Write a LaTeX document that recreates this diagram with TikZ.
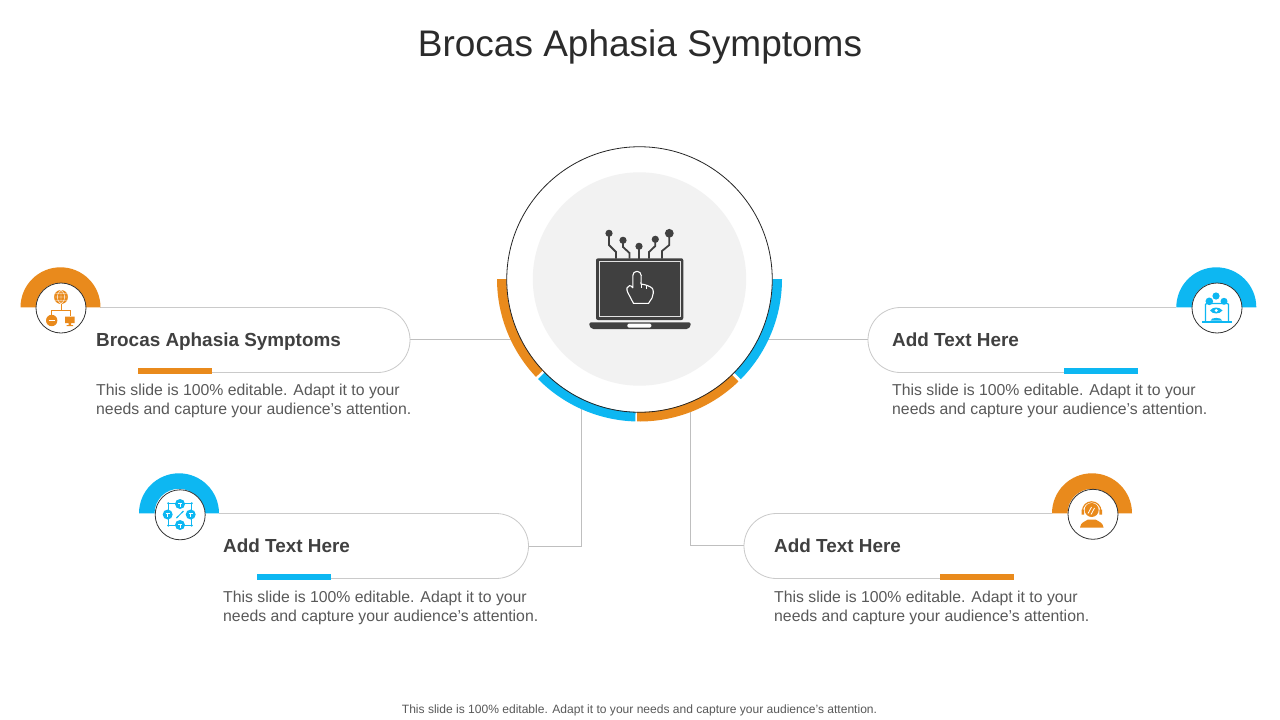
\documentclass[tikz,border=0pt]{standalone}
\usepackage{fontspec}
\setmainfont{Liberation Sans}
\usetikzlibrary{calc}
\definecolor{orangeA}{HTML}{E98A1C}
\definecolor{blueA}{HTML}{0DB7F2}
\definecolor{darkT}{HTML}{404040}
\definecolor{bodyT}{HTML}{595959}
\definecolor{titleT}{HTML}{2B2B2B}
\definecolor{lineG}{HTML}{BFBFBF}
\definecolor{pillG}{HTML}{CACACA}
\definecolor{softG}{HTML}{F2F2F2}
\newcommand{\ringarc}[3]{\fill[#3] ($(cc)+(#1:142.5)$) arc[start angle=#1,end angle=#2,radius=142.5] -- ($(cc)+(#2:133)$) arc[start angle=#2,end angle=#1,radius=133] -- cycle;}
\newcommand{\halfring}[3]{\fill[#3] (#1-40,#2) arc[start angle=180,end angle=360,radius=40] -- (#1+24.5,#2) arc[start angle=360,end angle=180,radius=24.5] -- cycle;}
\tikzset{x=1pt,y=-1pt,
 pill/.style={draw=pillG,line width=0.8pt},
 conn/.style={draw=lineG,line width=0.8pt},
 bar/.style={inner sep=0,minimum width=74pt,minimum height=5.5pt},
 title/.style={font=\fontsize{37}{44}\selectfont,text=titleT,inner sep=0},
 head/.style={font=\bfseries\fontsize{18.9}{22}\selectfont,text=darkT,inner sep=0,anchor=base west},
 body/.style={font=\fontsize{15.8}{19}\selectfont,text=bodyT,inner sep=0,anchor=north west,align=left},
 foot/.style={font=\fontsize{12.05}{14}\selectfont,text=bodyT,inner sep=0},
 badge/.style={circle,draw=black!80,fill=white,line width=0.8pt,minimum size=50pt,inner sep=0},
 hub/.style={circle,draw=black!85,line width=0.8pt,minimum size=265.5pt,inner sep=0},
 trace/.style={draw=darkT,line width=1.8pt},
}
\begin{document}
\begin{tikzpicture}
\useasboundingbox (0,0) rectangle (1280,720);
\fill[white] (0,0) rectangle (1280,720);
\coordinate (cc) at (639.5,279);
\coordinate (hc) at (639.5,279.5);
\node[title] (ttl) at (640,47) {Brocas Aphasia Symptoms};
\node[foot] (ft) at (639.5,710) {This slide is 100\% editable. Adapt it to your needs and capture your audience's attention.};
% connector ends
\coordinate (c1) at (512,339.5);
\coordinate (c2) at (768,339.5);
\coordinate (c3) at (581.5,408);
\coordinate (c4) at (690.5,408);
\coordinate (j3) at (581.5,546.5);
\coordinate (j4) at (690.5,545.5);
\coordinate (p1) at (410,339.5);
\coordinate (p2) at (868,339.5);
\coordinate (p3) at (528.5,546.5);
\coordinate (p4) at (744,545.5);
\draw[conn] (p1) -- (c1);
\draw[conn] (c2) -- (p2);
\draw[conn] (p3) -- (j3) -- (c3);
\draw[conn] (c4) -- (j4) -- (p4);
% main circle
\fill[softG] (cc) circle[radius=106.7];
\ringarc{180}{136.6}{orangeA}
\ringarc{135.4}{91.7}{blueA}
\ringarc{91}{46}{orangeA}
\ringarc{44.7}{0}{blueA}
\node[hub] (hubc) at (hc) {};
% laptop
\fill[darkT,rounded corners=2pt] (596,258.3) rectangle (683.3,320);
\draw[white!85!darkT,line width=0.9pt] (599.5,261.7) rectangle (680.5,316.7);
\fill[darkT,rounded corners=1.5pt] (589.3,322.3) -- (690.7,322.3) -- (690.7,326) -- (688,329) -- (592,329) -- (589.3,326) -- cycle;
\fill[white,rounded corners=1.5pt] (627.3,323.5) rectangle (651.3,327.7);
\draw[trace] (609,233.3) -- (609,245) -- (616,252) -- (616,258.5);
\draw[trace] (623,240.3) -- (623,247) -- (629.5,253) -- (629.5,258.5);
\draw[trace] (639,246.3) -- (639,258.5);
\draw[trace] (655.3,239.3) -- (655.3,246) -- (649,252) -- (649,258.5);
\draw[trace] (669.3,233.3) -- (669.3,245) -- (662,251) -- (662,258.5);
\fill[darkT] (609,233.3) circle[radius=3.6] (623,240.3) circle[radius=3.6] (639,246.3) circle[radius=3.6] (655.3,239.3) circle[radius=3.6] (669.3,233.3) circle[radius=4.4];
\draw[white,line width=1.1pt,line join=round] (632.8,288) -- (632.8,275.5) arc[start angle=180,end angle=360,radius=4.2] -- (641,284) .. controls (645,284.5) and (650,286) .. (652.5,288.5) .. controls (653.8,291) and (653.5,295) .. (652,298) -- (648.5,303.4) -- (633.5,303.4) -- (627.8,292.5) .. controls (626,289) and (627,286) .. (629.5,285.6) .. controls (631,285.5) and (632,286.5) .. (632.8,288);
\draw[white,line width=0.8pt] (641,284) -- (641,287.5) (646.5,285.5) -- (646.5,288.5);
% pill 1
\draw[pill] (100,307.5) -- (377.5,307.5) arc[start angle=-90,end angle=90,radius=32.5] -- (212,372.5);
\node[bar,fill=orangeA] (b1) at (175,371) {};
\halfring{60.5}{307.3}{orangeA}
\node[badge] (i1) at (61,308) {};
\node[head] (h1) at (96,346) {Brocas Aphasia Symptoms};
\node[body] (t1) at (96,384.3) {This slide is 100\% editable. Adapt it to your\\needs and capture your audience's attention.};
% pill 2
\draw[pill] (1176,307.5) -- (900.5,307.5) arc[start angle=270,end angle=90,radius=32.5] -- (1064,372.5);
\node[bar,fill=blueA] (b2) at (1101,371) {};
\halfring{1216.3}{307.3}{blueA}
\node[badge] (i2) at (1217,308) {};
\node[head] (h2) at (892,346) {Add Text Here};
\node[body] (t2) at (892,384.3) {This slide is 100\% editable. Adapt it to your\\needs and capture your audience's attention.};
% pill 3
\draw[pill] (219,513.5) -- (496,513.5) arc[start angle=-90,end angle=90,radius=32.5] -- (331,578.5);
\node[bar,fill=blueA] (b3) at (294,577) {};
\halfring{179}{513.3}{blueA}
\node[badge] (i3) at (180.2,514.8) {};
\node[head] (h3) at (223,552) {Add Text Here};
\node[body] (t3) at (223,591.3) {This slide is 100\% editable. Adapt it to your\\needs and capture your audience's attention.};
% pill 4
\draw[pill] (1052,513.5) -- (776.5,513.5) arc[start angle=270,end angle=90,radius=32.5] -- (940,578.5);
\node[bar,fill=orangeA] (b4) at (977,577) {};
\halfring{1092}{513.3}{orangeA}
\node[badge] (i4) at (1093,514.3) {};
\node[head] (h4) at (774,552) {Add Text Here};
\node[body] (t4) at (774,591.3) {This slide is 100\% editable. Adapt it to your\\needs and capture your audience's attention.};
% icon 1: network
\fill[orangeA] (61,297) circle[radius=7];
\draw[white,line width=0.4pt] (54,297) -- (68,297) (61,290) -- (61,304) (55,293.5) -- (67,293.5) (55,300.5) -- (67,300.5) (61,290) .. controls (56,294) and (56,300) .. (61,304) (61,290) .. controls (66,294) and (66,300) .. (61,304);
\draw[orangeA,line width=0.8pt] (61,304) -- (61,310) (51.7,316) -- (51.7,310) -- (70,310) -- (70,316);
\fill[orangeA] (51.7,320.5) circle[radius=5.7];
\draw[white,line width=0.7pt] (48.5,320.5) -- (55,320.5);
\fill[orangeA] (65,316.5) rectangle (74.5,323) (68.5,323) rectangle (71,325) (66.5,325) rectangle (73,326);
% icon 2: monitor, eye, bubbles
\draw[blueA,line width=1.2pt,rounded corners=1pt] (1205.5,321) -- (1205.5,303.5) -- (1228.5,303.5) -- (1228.5,321);
\fill[blueA] (1202,320.5) rectangle (1232,322.5);
\fill[blueA] (1216,296) circle[radius=3.6] (1209.3,301.3) circle[radius=3.8] (1224,301.3) circle[radius=3.5];
\fill[blueA] (1210,310.5) .. controls (1213,306.5) and (1219,306.5) .. (1222.5,310.5) .. controls (1219,314.5) and (1213,314.5) .. (1210,310.5) -- cycle;
\fill[white] (1216.2,310.5) circle[radius=1.6];
\fill[blueA] (1210.5,320.5) .. controls (1211,317) and (1221.5,317) .. (1222,320.5) -- cycle;
% icon 3: cubes
\draw[blueA,line width=0.7pt] (168.3,503.3) rectangle (191.7,525.5);
\fill[blueA] (180,504) circle[radius=5] (167.7,514.5) circle[radius=5] (190.7,514.5) circle[radius=5] (180,525) circle[radius=5];
\fill[blueA] (168.3,503.3) circle[radius=1.2] (191.7,503.3) circle[radius=1.2] (168.3,525.5) circle[radius=1.2] (191.7,525.5) circle[radius=1.2];
\draw[white,line width=0.5pt] (178,503) -- (182,503) (180,503) -- (180,506.5) (165.7,513.5) -- (169.7,513.5) (167.7,513.5) -- (167.7,517) (188.7,513.5) -- (192.7,513.5) (190.7,513.5) -- (190.7,517) (178,524) -- (182,524) (180,524) -- (180,527.5);
\draw[blueA,line width=1.4pt] (176.5,518) -- (178.3,516.2) (181.7,512.8) -- (183.5,511);
\draw[blueA,line width=0.8pt] (177.8,516.7) -- (182.2,512.3);
% icon 4: headset person
\fill[orangeA] (1091.7,510) circle[radius=7];
\draw[orangeA,line width=1.2pt] (1082.5,511) arc[start angle=180,end angle=360,radius=9.2];
\fill[orangeA] (1081.5,509.5) rectangle (1084,514.5) (1099.4,509.5) rectangle (1102,514.5);
\draw[white,line width=0.8pt] (1088,513.5) -- (1091.5,507) (1091,514.5) -- (1094.5,508);
\fill[orangeA] (1080,527.5) .. controls (1080.5,522.5) and (1085,521.5) .. (1088,519.5) -- (1095.5,519.5) .. controls (1098.5,521.5) and (1103,522.5) .. (1103.5,527.5) -- cycle;
\end{tikzpicture}
\end{document}
